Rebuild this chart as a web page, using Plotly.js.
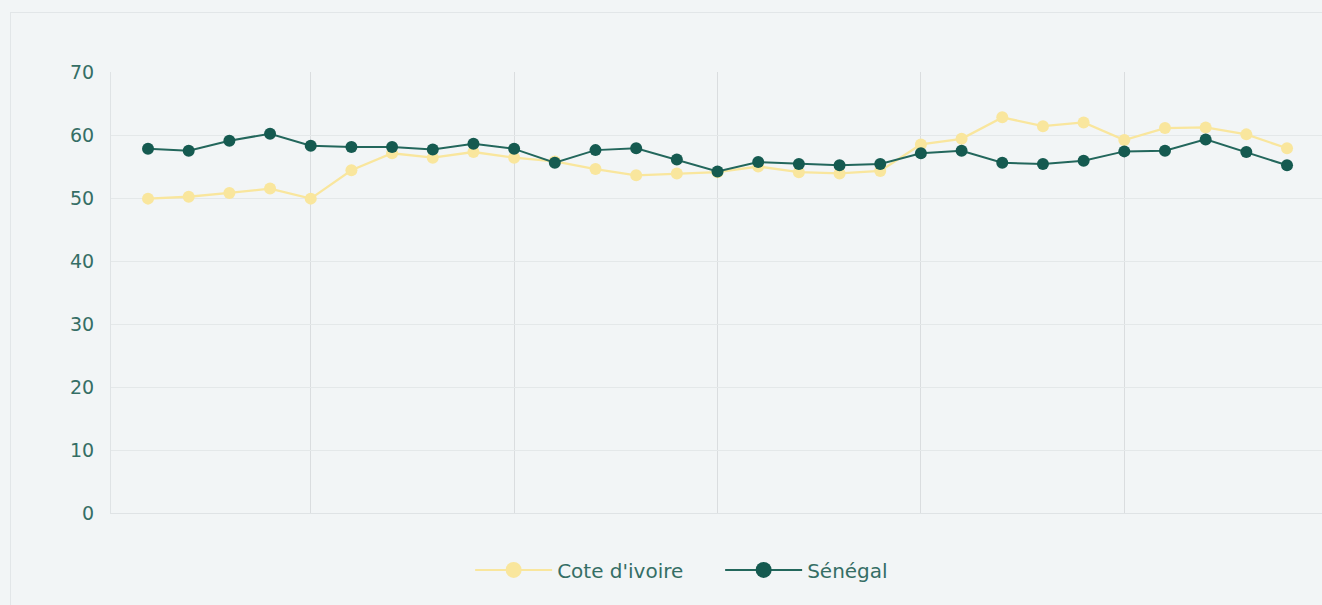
<!DOCTYPE html>
<html>
<head>
<meta charset="utf-8">
<script src="https://cdn.plot.ly/plotly-3.0.1.min.js"></script>
<style>
  html, body { margin: 0; padding: 0; background: #f2f5f6; overflow: hidden; }
  #card { position: absolute; left: 10px; top: 12px; width: 1312px; height: 593px;
          border-left: 1px solid #e2e6e8; border-top: 1px solid #e2e6e8; background: #f2f5f6; }
  #chart { width: 1311px; height: 592px; }
</style>
</head>
<body>
<div id="card"><div id="chart"></div></div>
<script>
const categories = ['1','2','3','4','5','6','7','8','9','10','11','12','13','14','15',
  '16','17','18','19','20','21','22','23','24','25','26','27','28','29'];
const coteDivoire = [49.9, 50.2, 50.8, 51.5, 49.9, 54.4, 57.1, 56.4, 57.3, 56.4, 55.8, 54.6, 53.6, 53.9,
  54.1, 55.0, 54.1, 53.9, 54.3, 58.5, 59.4, 62.8, 61.4, 62.0, 59.2, 61.1, 61.2, 60.1, 57.9];
const senegal = [57.8, 57.5, 59.1, 60.2, 58.3, 58.1, 58.1, 57.7, 58.6, 57.8, 55.6, 57.6, 57.9, 56.1,
  54.2, 55.7, 55.4, 55.2, 55.4, 57.1, 57.5, 55.6, 55.4, 55.9, 57.4, 57.5, 59.3, 57.3, 55.2];
const seriesNames = ["Cote d'ivoire", 'Sénégal'];
const seriesColors = ['#f9e69d', '#155a50'];
const lineColors = ['#f9e69d', '#23675c'];
const yTicks = [0, 10, 20, 30, 40, 50, 60, 70];
const xGridAt = ['5', '10', '15', '20', '25'];

const font = 'DejaVu Sans, sans-serif';
const textColor = '#356e65';

const seriesValues = [coteDivoire, senegal];
const traces = [];
seriesValues.forEach((vals, i) => {
  traces.push({
    x: categories, y: vals, name: seriesNames[i], type: 'scatter', mode: 'lines+markers',
    line: { color: lineColors[i], width: i === 0 ? 2.3 : 2 },
    marker: { color: seriesColors[i], size: 12 },
    legendgroup: 'g' + i, showlegend: false,
    hoverinfo: 'x+y+name'
  });
});
// legend entries (bigger legend symbols, same series)
seriesValues.forEach((vals, i) => {
  traces.push({
    x: [null], y: [null], name: seriesNames[i], type: 'scatter', mode: 'lines+markers',
    line: { color: lineColors[i], width: 2 },
    marker: { color: seriesColors[i], size: 22 },
    legendgroup: 'g' + i, showlegend: true, hoverinfo: 'skip'
  });
});

const layout = {
  width: 1311, height: 592,
  margin: { l: 100, r: 0, t: 59, b: 92 },
  paper_bgcolor: '#f2f5f6',
  plot_bgcolor: '#f2f5f6',
  font: { family: font, color: textColor },
  showlegend: true,
  legend: {
    orientation: 'h', x: 0.503, xanchor: 'center', y: -0.129, yanchor: 'middle',
    font: { family: font, size: 20, color: textColor },
    itemwidth: 77, entrywidth: 158, entrywidthmode: 'pixels',
    bgcolor: 'rgba(0,0,0,0)', itemclick: false, itemdoubleclick: false
  },
  xaxis: {
    type: 'category',
    range: [-0.91, 28.86],
    tickmode: 'array', tickvals: xGridAt, showticklabels: false,
    showgrid: true, gridcolor: '#dadddf', gridwidth: 1,
    showline: true, linecolor: '#dfe3e5', mirror: false,
    zeroline: false, ticks: ''
  },
  yaxis: {
    range: [0, 70],
    tickmode: 'array', tickvals: yTicks,
    showgrid: true, gridcolor: '#e4e8e9', gridwidth: 1,
    zeroline: true, zerolinecolor: '#dfe3e5', zerolinewidth: 1,
    showline: true, linecolor: '#dfe3e5',
    ticks: 'outside', ticklen: 12, tickcolor: 'rgba(0,0,0,0)',
    tickfont: { family: font, size: 19, color: textColor }
  }
};

Plotly.newPlot('chart', traces, layout, { displayModeBar: false });
</script>
</body>
</html>
